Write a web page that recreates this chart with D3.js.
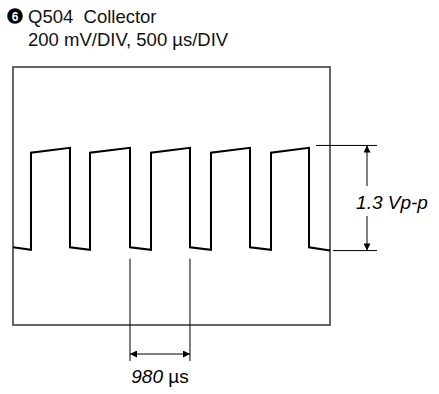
<!DOCTYPE html>
<html><head><meta charset="utf-8">
<script src="https://cdn.jsdelivr.net/npm/d3@7/dist/d3.min.js"></script>
<style>body{margin:0;background:#fff}svg{display:block}text{white-space:pre}</style>
</head><body>
<script>
// Title text
const titleNumber = "6";
const titleLines = ["Q504  Collector", "200 mV/DIV, 500 \u00b5s/DIV"];
// Waveform: time (µs), voltage (V)
const waveTime = [0, 294, 294, 931, 931, 1258, 1258, 1912, 1912, 2255, 2255, 2892, 2892, 3235, 3235, 3873, 3873, 4216, 4216, 4837, 4837, 5180];
const waveVolt = [0.02, -0.01, 1.19, 1.25, 0.02, -0.01, 1.19, 1.25, 0.02, -0.01, 1.19, 1.25, 0.02, -0.01, 1.19, 1.25, 0.02, -0.01, 1.19, 1.25, 0.02, -0.02];
// Annotations
const periodStart = 1912, periodEnd = 2892; // 980 µs
const periodNum = "980 ", periodUnit = "\u00b5s";
const ampLow = -0.02, ampHigh = 1.28;
const ampLabel = "1.3 Vp-p";

const W = 439, H = 394;
const box = {l: 13, r: 330, t: 67, b: 325};
const FONT = "Liberation Sans, Arial, sans-serif";
const svg = d3.select("body").append("svg").attr("width", W).attr("height", H);

const x = d3.scaleLinear().domain([0, 5180]).range([box.l, box.r]);
const y = d3.scaleLinear().domain([-0.94, 2.25]).range([box.b, box.t]);

// Title
svg.append("circle").attr("cx", 15).attr("cy", 16).attr("r", 7.8).attr("fill", "#000");
svg.append("text").attr("x", 15).attr("y", 20.5).attr("text-anchor", "middle")
  .attr("font-family", FONT).attr("font-weight", "bold")
  .attr("font-size", 12).attr("fill", "#fff").text(titleNumber);
svg.selectAll("text.title").data(titleLines).join("text").attr("class", "title")
  .attr("x", 28).attr("y", (d, i) => 23 + i * 23)
  .attr("font-family", FONT).attr("font-size", 18.5)
  .attr("fill", "#111").text(d => d);

// Frame
svg.append("rect").attr("x", box.l).attr("y", box.t).attr("width", box.r - box.l).attr("height", box.b - box.t)
  .attr("fill", "none").attr("stroke", "#333").attr("stroke-width", 1.5);

// Waveform
const pts = waveTime.map((t, i) => [t, waveVolt[i]]);
svg.append("path").datum(pts)
  .attr("d", d3.line().x(d => x(d[0])).y(d => y(d[1])))
  .attr("fill", "none").attr("stroke", "#000").attr("stroke-width", 2);

// Arrow marker
const defs = svg.append("defs");
["s", "e"].forEach(k => {
  defs.append("marker").attr("id", "arr" + k).attr("viewBox", "0 0 10 10")
    .attr("refX", 10).attr("refY", 5).attr("markerWidth", 14).attr("markerHeight", 7)
    .attr("markerUnits", "userSpaceOnUse").attr("orient", "auto-start-reverse")
    .append("path").attr("d", "M0,0 L10,5 L0,10 Z").attr("fill", "#000");
});

// Period dimension
const lineY = 354;
[periodStart, periodEnd].forEach(t => {
  svg.append("line").attr("x1", x(t)).attr("x2", x(t)).attr("y1", y(-0.12)).attr("y2", 361)
    .attr("stroke", "#000").attr("stroke-width", 1);
});
svg.append("line").attr("x1", x(periodStart)).attr("x2", x(periodEnd)).attr("y1", lineY).attr("y2", lineY)
  .attr("stroke", "#000").attr("stroke-width", 1)
  .attr("marker-start", "url(#arrs)").attr("marker-end", "url(#arre)");
const pt = svg.append("text").attr("x", (x(periodStart) + x(periodEnd)) / 2).attr("y", 383).attr("text-anchor", "middle")
  .attr("font-family", FONT).attr("font-size", 19);
pt.append("tspan").attr("font-style", "italic").text(periodNum);
pt.append("tspan").attr("font-style", "normal").text(periodUnit);

// Amplitude dimension
svg.append("line").attr("x1", 316).attr("x2", 377).attr("y1", y(ampHigh)).attr("y2", y(ampHigh)).attr("stroke", "#000");
svg.append("line").attr("x1", 333).attr("x2", 377).attr("y1", y(ampLow)).attr("y2", y(ampLow)).attr("stroke", "#000");
svg.append("line").attr("x1", 367).attr("x2", 367).attr("y1", y(ampHigh)).attr("y2", 186)
  .attr("stroke", "#000").attr("marker-start", "url(#arrs)");
svg.append("line").attr("x1", 367).attr("x2", 367).attr("y1", 216).attr("y2", y(ampLow))
  .attr("stroke", "#000").attr("marker-end", "url(#arre)");
svg.append("text").attr("x", 392).attr("y", 209).attr("text-anchor", "middle")
  .attr("font-family", FONT).attr("font-style", "italic").attr("font-size", 19)
  .text(ampLabel);
</script>
</body></html>
